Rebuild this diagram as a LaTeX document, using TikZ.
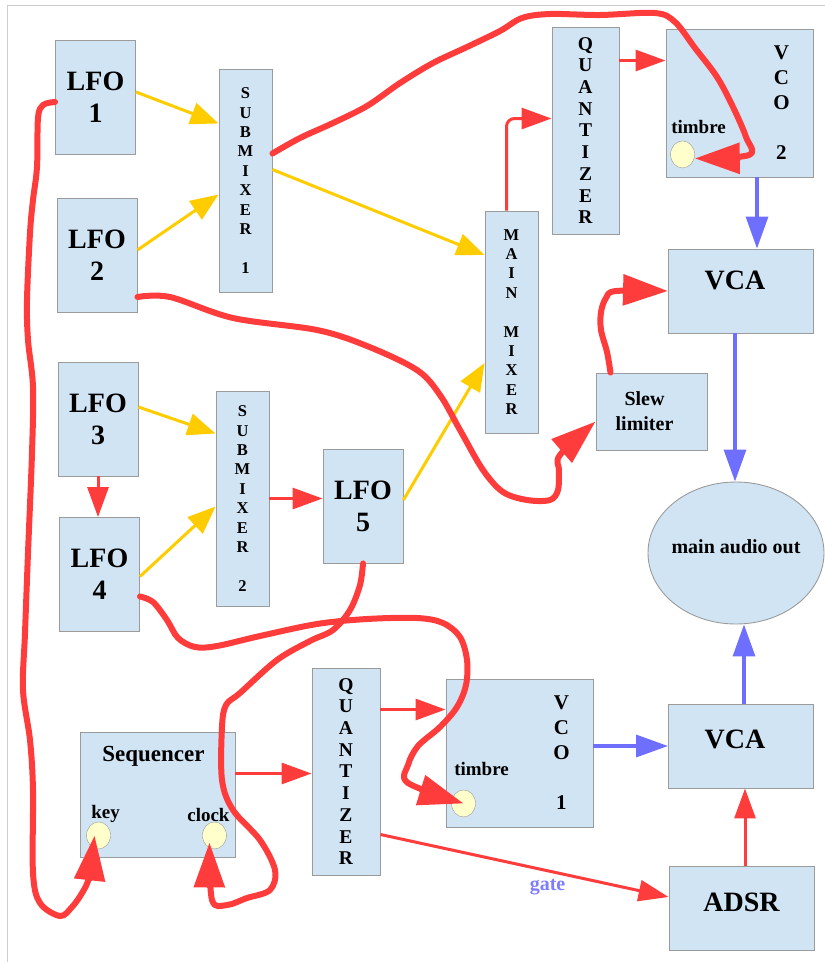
\documentclass[tikz,border=0pt]{standalone}
\usepackage{fontspec}
\setmainfont{Liberation Serif}
\usetikzlibrary{arrows.meta,shapes.geometric,positioning}
\definecolor{boxfill}{RGB}{209,228,244}
\definecolor{boxline}{RGB}{155,155,155}
\definecolor{jackfill}{RGB}{255,255,204}
\definecolor{cyel}{RGB}{255,204,0}
\definecolor{cred}{RGB}{255,60,60}
\definecolor{cblue}{RGB}{110,110,255}
\definecolor{gatecol}{RGB}{125,125,255}
\definecolor{pageline}{RGB}{205,205,205}

\begin{document}
\begin{tikzpicture}[%
    x=1pt, y=-1pt,
    box/.style={draw=boxline, fill=boxfill, line width=0.9pt, inner sep=0pt, align=center},
    lfo/.style={box, minimum width=80pt, minimum height=114pt, font=\fontsize{28}{32}\selectfont\bfseries},
    mixer/.style={box, minimum width=53pt, font=\fontsize{16.5}{19.4}\selectfont\bfseries},
    quant/.style={box, minimum width=67pt, minimum height=207pt, font=\fontsize{19.5}{21.7}\selectfont\bfseries},
    module/.style={box, minimum width=145pt, minimum height=84pt},
    jack/.style={ellipse, draw=boxline, fill=jackfill, minimum width=24pt, minimum height=27pt, inner sep=0pt},
    big/.style={font=\fontsize{28}{32}\selectfont\bfseries, inner sep=0pt},
    lbl/.style={font=\fontsize{19}{22}\selectfont\bfseries, inner sep=0pt, align=center},
    vco/.style={font=\fontsize{21}{25}\selectfont\bfseries, inner sep=0pt, align=center},
    gatelbl/.style={font=\fontsize{20}{24}\selectfont\bfseries, text=gatecol, inner sep=0pt},
    yel/.style={draw=cyel, line width=3pt, -{Triangle[length=28pt,width=22pt]}},
    wire/.style={draw=cred, line width=3pt, -{Triangle[length=30pt,width=21pt]}},
    audio/.style={draw=cblue, line width=3.2pt, -{Triangle[length=32pt,width=22pt]}},
    cable/.style={draw=cred, line width=6pt, line cap=round, line join=round, -{Triangle[length=45pt,width=30pt]}}
  ]
    \useasboundingbox (0,0) rectangle (825,962);
    \draw[pageline, line width=1pt] (7,962) -- (7,5) -- (825,5);

    % modules
    \node[lfo] (L1) at (95.5,97) {LFO\\1};
    \node[lfo] (L2) at (97,255) {LFO\\2};
    \node[lfo] (L3) at (98,419) {LFO\\3};
    \node[lfo] (L4) at (99.5,574.5) {LFO\\4};
    \node[lfo] (L5) at (363,506) {LFO\\5};
    \node[mixer, minimum height=223pt] (SM1) at (245.5,180.5) {S\\U\\B\\M\\I\\X\\E\\R\\[19.4pt]1};
    \node[mixer, minimum height=215pt] (SM2) at (242.5,498.5) {S\\U\\B\\M\\I\\X\\E\\R\\[19.4pt]2};
    \node[mixer, minimum height=222pt] (MM) at (511.5,322) {M\\A\\I\\N\\[19.4pt]M\\I\\X\\E\\R};
    \node[quant] (QT) at (585.5,130.5) {Q\\U\\A\\N\\T\\I\\Z\\E\\R};
    \node[quant, minimum width=68pt] (QB) at (346,771.5) {Q\\U\\A\\N\\T\\I\\Z\\E\\R};
    \node[box, minimum width=147pt, minimum height=148pt] (V2) at (739.5,103) {};
    \node[box, minimum width=147pt, minimum height=148pt] (V1) at (519.5,753) {};
    \node[module] (VAt) at (741,291) {};
    \node[module] (VAb) at (741,746) {};
    \node[module] (AD) at (741.5,908) {};
    \node[box, minimum width=111pt, minimum height=77pt] (SL) at (651.5,411.5) {};
    \node[box, minimum width=155pt, minimum height=125pt] (Sq) at (157.5,794.5) {};
    \node[box, ellipse, minimum width=176pt, minimum height=142pt] (MAO) at (736,553) {};

    % texts
    \node[vco] (V2t) at ([xshift=-32pt]V2.east) {V\\C\\O\\[25pt]2};
    \node[vco] (V1t) at ([xshift=-32pt]V1.east) {V\\C\\O\\[25pt]1};
    \node[big] (VAtt) at ([xshift=-6pt,yshift=11pt]VAt.center) {VCA};
    \node[big] (VAbt) at ([xshift=-6pt,yshift=7pt]VAb.center) {VCA};
    \node[big] (ADt) at ([yshift=6pt]AD.center) {ADSR};
    \node[lbl, font=\fontsize{20}{25}\selectfont\bfseries] (SLt) at ([xshift=-7pt]SL.center) {Slew\\limiter};
    \node[lbl, font=\fontsize{20}{24}\selectfont\bfseries] (MAOt) at ([yshift=6pt]MAO.center) {main audio out};
    \node[lbl, font=\fontsize{23}{27}\selectfont\bfseries] (Sqt) at ([xshift=-4pt,yshift=-25pt]Sq.north) {Sequencer};

    % jacks
    \node[jack] (Kj) at ([xshift=19pt,yshift=22pt]Sq.south west) {};
    \node[jack] (Cj) at ([xshift=-21pt,yshift=22pt]Sq.south east) {};
    \node[jack] (T2) at ([xshift=17pt,yshift=23pt]V2.south west) {};
    \node[jack] (T1) at ([xshift=18pt,yshift=24pt]V1.south west) {};
    \node[lbl] (Kt) at ([xshift=7pt,yshift=22pt]Kj.center) {key};
    \node[lbl] (Ct) at ([xshift=-6pt,yshift=20pt]Cj.center) {clock};
    \node[lbl] (T2t) at ([xshift=16pt,yshift=27pt]T2.center) {timbre};
    \node[lbl] (T1t) at ([xshift=18pt,yshift=34pt]T1.center) {timbre};

    % control voltages
    \draw[yel] ([yshift=5pt]L1.east) -- ([yshift=57pt]SM1.west);
    \draw[yel] ([yshift=5pt]L2.east) -- ([yshift=-14pt]SM1.west);
    \draw[yel] ([yshift=11pt]SM1.east) -- ([yshift=67pt]MM.west);
    \draw[yel] ([yshift=12pt]L3.east) -- ([yshift=65pt]SM2.west);
    \draw[yel] ([yshift=-2pt]L4.east) -- ([yshift=-8pt]SM2.west);
    \draw[yel] ([yshift=6pt]L5.east) -- ([yshift=-41pt]MM.west);

    \draw[wire] (L3.south) -- (L3.south |- L4.north);
    \draw[wire] (SM2.east) -- (SM2.east -| L5.west);
    \draw[wire, rounded corners=8pt] ([xshift=-5pt]MM.north) |- ([yshift=12pt]QT.west);
    \draw[wire] ([yshift=70pt]QT.east) -- ([yshift=70pt]QT.east -| V2.west);
    \draw[wire] ([yshift=62pt]QB.east) -- ([yshift=62pt]QB.east -| V1.west);
    \draw[wire] ([yshift=21pt]Sq.east) -- ([yshift=21pt]Sq.east -| QB.west);
    \draw[wire] ([yshift=-63pt]QB.east) -- node[gatelbl, pos=0.58, below=7pt] (gt) {gate} ([yshift=11pt]AD.west);
    \draw[wire] ([xshift=3.5pt]AD.north) -- ([xshift=3.5pt]AD.north |- VAb.south);

    % audio
    \draw[audio] ([xshift=17.5pt]V2.south) -- ([xshift=17.5pt]V2.south |- VAt.north);
    \draw[audio] ([xshift=-6pt]VAt.south) -- ([xshift=-6pt]VAt.south |- MAO.north);
    \draw[audio] ([xshift=3pt]VAb.north) -- ([xshift=3pt]VAb.north |- MAO.south);
    \draw[audio] ([yshift=7pt]V1.east) -- ([yshift=7pt]V1.east -| VAb.west);

    % patch cables
    \draw[cable] plot[smooth, tension=0.55] coordinates {([yshift=27pt]SM1.east) (300,138) (333,123) (367,106) (400,83) (433,63) (467,47) (500,31) (522,18) (550,14) (600,15) (655,13) (675,22) (695,48) (717,77) (733,107) (746,137) (749,155) ([yshift=-4pt]T2.east)};
    \draw[cable] plot[smooth, tension=0.55] coordinates {([yshift=-5pt]L1.west) (43,105) (38,118) (37,167) (33,200) (30,233) (27,300) (28,340) (33,387) (32,453) (28,553) (25,633) (23,690) (30,740) (33,790) (33,873) (40,903) (60,916) (72,907) (82,893) (89,877) ([xshift=-4pt]Kj.center)};
    \draw[cable] plot[smooth, tension=0.55] coordinates {([yshift=-42pt]L2.east) (170,297) (233,318) (317,330) (367,346) (417,370) (440,395) (460,430) (483,470) (503,492) (527,500) (550,500) (558,490) (559,470) (560,455) ([yshift=-10pt]SL.west)};
    \draw[cable] plot[smooth, tension=0.55] coordinates {([xshift=-41pt]SL.north) (607,352) (601,330) (601,312) (606,298) (616,291) (VAt.west)};
    \draw[cable] plot[smooth, tension=0.55] coordinates {([yshift=-22pt]L4.east) (153,602) (167,620) (178,638) (195,647) (217,646) (260,636) (317,624) (367,619) (417,618) (443,623) (460,637) (467,660) (466,685) (457,707) (440,727) (418,746) (408,765) (408,783) (T1.center)};
    \draw[cable] plot[smooth, tension=0.55] coordinates {(L5.south) (360,585) (350,610) (333,630) (310,641) (277,660) (240,693) (226,705) (222,727) (222,780) (233,810) (260,840) (275,870) (270,890) (247,898) (227,905) (212,900) ([xshift=-5pt,yshift=-7pt]Cj.center)};
\end{tikzpicture}
\end{document}
